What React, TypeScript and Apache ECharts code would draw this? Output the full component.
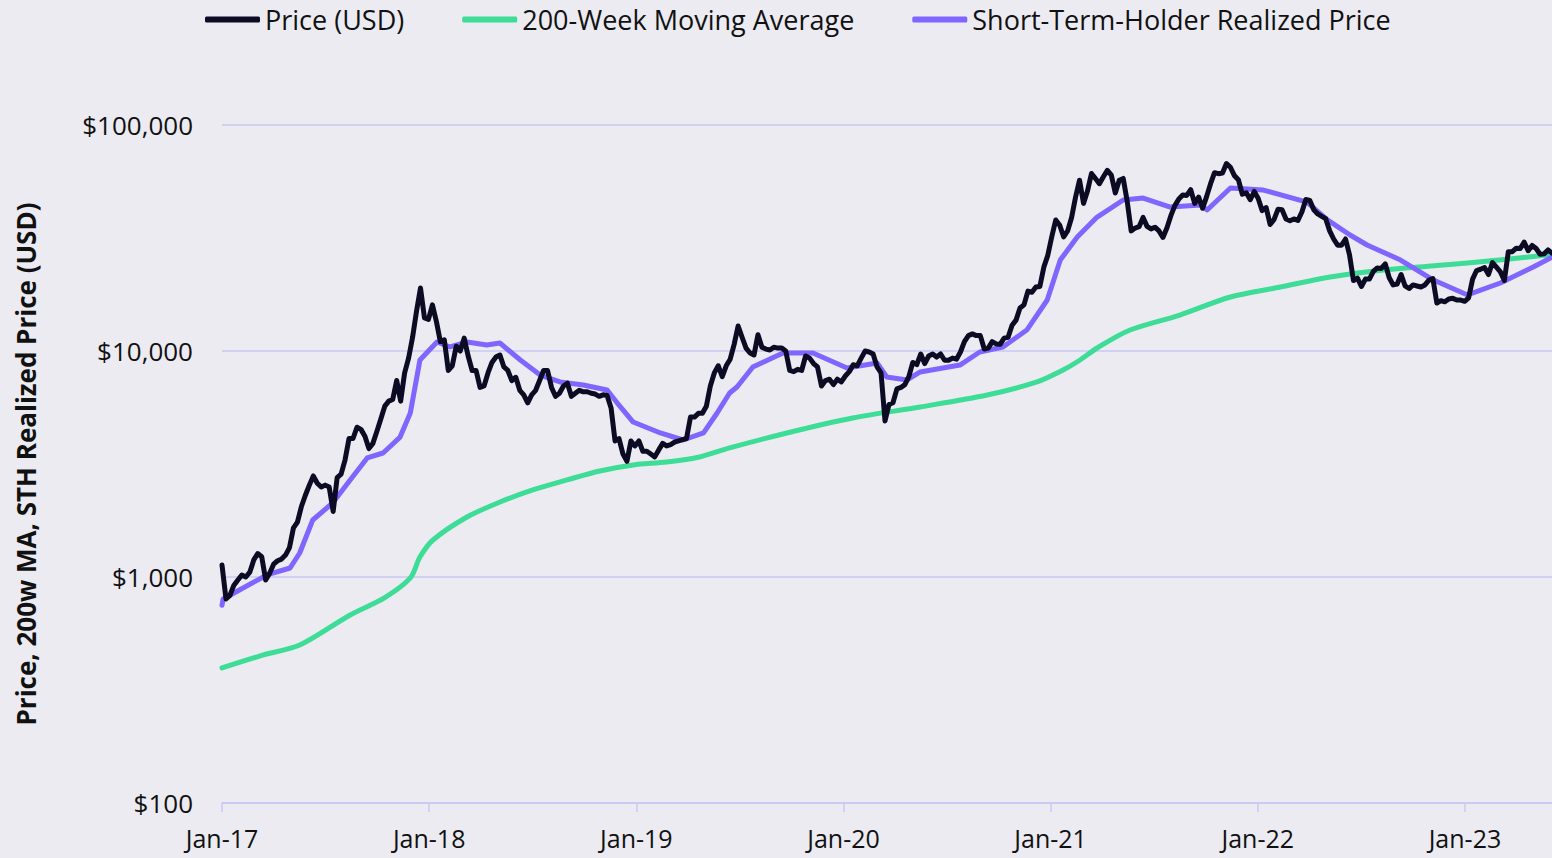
import React, { useEffect, useRef } from "react";
import * as echarts from "echarts";

// Weekly BTC price (USD), Sundays, starting 2017-01-01
const price2017 = [1130, 800, 830, 920, 970, 1020, 1000, 1050, 1190, 1270, 1230, 970, 1040, 1140, 1180, 1200, 1250, 1350, 1650, 1750, 2050, 2300, 2550, 2800, 2600, 2500, 2550, 2500, 1950, 2750, 2850, 3300, 4100, 4100, 4600, 4500, 4200, 3700, 3900, 4400, 5000, 5700, 6000, 6100, 7400, 6000, 8000, 9300, 11500, 15000, 19000, 14000, 13800];
const price2018 = [16000, 13500, 11000, 11200, 8200, 8600, 10500, 10000, 11400, 9500, 8200, 8200, 6900, 7000, 8000, 8900, 9400, 9600, 8500, 8200, 7400, 7650, 6700, 6400, 5900, 6400, 6700, 7400, 8200, 8200, 6900, 6300, 6500, 7000, 7200, 6300, 6500, 6700, 6600, 6600, 6500, 6450, 6300, 6400, 6350, 5600, 4000, 4100, 3500, 3250, 4000, 3800];
const price2019 = [4000, 3600, 3600, 3500, 3400, 3650, 3900, 3800, 3850, 3950, 4000, 4050, 4100, 5100, 5100, 5300, 5300, 5700, 7000, 8000, 8600, 7700, 8600, 9200, 10700, 12900, 11500, 10300, 9800, 9600, 11800, 10400, 10200, 10100, 10400, 10300, 10300, 10000, 8200, 8100, 8300, 8200, 9500, 9300, 8800, 8500, 7000, 7400, 7500, 7100, 7500, 7300];
const price2020 = [7750, 8100, 8700, 8600, 9300, 10000, 9900, 9700, 8500, 8000, 4900, 5800, 5900, 6800, 6900, 7100, 7700, 8900, 8700, 9700, 8800, 9500, 9700, 9400, 9700, 9100, 9100, 9300, 9200, 9900, 11000, 11700, 11900, 11700, 11700, 10200, 10300, 11000, 10750, 10700, 11400, 11500, 13000, 13700, 15500, 16000, 18400, 18200, 19200, 19300, 23500, 26500];
const price2021 = [32000, 38000, 36000, 32000, 34000, 39000, 48000, 57000, 45000, 51000, 61000, 58000, 55000, 59000, 63000, 60000, 50000, 57000, 58000, 46000, 34000, 35000, 35500, 39000, 35600, 34700, 35300, 34000, 31800, 35000, 39700, 44000, 47000, 49000, 48800, 51700, 45000, 48000, 42800, 48200, 55000, 61500, 60900, 61300, 67500, 65000, 59700, 57300, 49400, 50100, 46700, 50800];
const price2022 = [47300, 41800, 43100, 36300, 38200, 42400, 42200, 38400, 37700, 38400, 37800, 41200, 46800, 46400, 42200, 40400, 39400, 38500, 34000, 31300, 29400, 29400, 31300, 26600, 20500, 21000, 19300, 20800, 20800, 22500, 23300, 23200, 24300, 21100, 19600, 19800, 21800, 19400, 18900, 19600, 19400, 19200, 19600, 20600, 20900, 16300, 16700, 16500, 17000, 17100, 16800, 16800];
const price2023 = [16600, 17200, 20800, 22700, 23000, 23400, 21800, 24600, 23500, 22400, 20500, 27500, 27500, 28500, 28400, 30300, 27800, 29300, 28400, 26800, 26900, 28000, 27100];

// 200-week moving average
const maDates = ["2017-01-01", "2017-03-15", "2017-05-18", "2017-08-15", "2017-10-15", "2017-11-29", "2017-12-16", "2018-01-08", "2018-03-09", "2018-05-06", "2018-07-03", "2018-09-01", "2018-10-29", "2018-12-27", "2019-02-24", "2019-04-23", "2019-06-15", "2019-09-24", "2020-01-18", "2020-05-16", "2020-09-11", "2020-12-08", "2021-01-23", "2021-02-22", "2021-03-24", "2021-05-21", "2021-08-17", "2021-11-14", "2022-02-10", "2022-05-09", "2022-08-11", "2023-01-06", "2023-06-04"];
const maValues = [396, 452, 500, 679, 810, 990, 1225, 1458, 1843, 2146, 2428, 2688, 2946, 3133, 3227, 3397, 3724, 4339, 5054, 5653, 6383, 7293, 8242, 9125, 10310, 12380, 14430, 17340, 19190, 21240, 22810, 24490, 26700];

// Short-term-holder realized price
const sthDates = ["2017-01-01", "2017-01-03", "2017-03-21", "2017-05-01", "2017-05-18", "2017-06-10", "2017-07-15", "2017-08-15", "2017-09-14", "2017-10-12", "2017-11-11", "2017-11-29", "2017-12-16", "2018-01-15", "2018-02-07", "2018-03-09", "2018-04-13", "2018-05-06", "2018-06-11", "2018-07-16", "2018-08-20", "2018-09-30", "2018-11-11", "2018-11-29", "2018-12-27", "2019-02-13", "2019-03-25", "2019-04-30", "2019-05-24", "2019-06-15", "2019-06-28", "2019-07-26", "2019-09-17", "2019-11-09", "2020-01-08", "2020-03-01", "2020-03-18", "2020-04-23", "2020-05-16", "2020-07-25", "2020-08-29", "2020-10-09", "2020-11-20", "2020-12-26", "2021-01-18", "2021-02-17", "2021-03-24", "2021-05-09", "2021-06-13", "2021-07-31", "2021-09-22", "2021-10-04", "2021-11-14", "2022-01-11", "2022-03-29", "2022-05-04", "2022-06-13", "2022-07-13", "2022-09-10", "2022-11-07", "2023-01-06", "2023-03-05", "2023-05-02", "2023-06-04"];
const sthValues = [750, 799, 1021, 1096, 1277, 1787, 2125, 2687, 3362, 3537, 4161, 5317, 9125, 10960, 10420, 10960, 10640, 10850, 9125, 7826, 7293, 7074, 6719, 5885, 4850, 4339, 4038, 4339, 5317, 6518, 6930, 8492, 9795, 9795, 8405, 8848, 7673, 7448, 8075, 8667, 9898, 10420, 12380, 16810, 25270, 31930, 39150, 46560, 47520, 43350, 44250, 42060, 52630, 51540, 45600, 38010, 32600, 29450, 25270, 20610, 17700, 19990, 23540, 26000];

const seriesNames = ["Price (USD)", "200-Week Moving Average", "Short-Term-Holder Realized Price"];
const yAxisTitle = "Price, 200w MA, STH Realized Price (USD)";
const startYear = 2017;
const endDate = "2023-06-04";

const DAY = 86400000;
const T0 = Date.UTC(2017, 0, 1);
// convert a date to fractional years (365.25-day years) since Jan 1 2017
function dateToYear(s: string) {
  const [y, m, d] = s.split("-").map(Number);
  return startYear + (Date.UTC(y, m - 1, d) - T0) / DAY / 365.25;
}

export default function App() {
  const ref = useRef<HTMLDivElement>(null);
  useEffect(() => {
    if (!ref.current) return;
    const chart = echarts.init(ref.current, null, { renderer: "svg" });
    const allPrices = [...price2017, ...price2018, ...price2019, ...price2020, ...price2021, ...price2022, ...price2023];
    const priceData = allPrices.map((v, i) => [startYear + (7 * i) / 365.25, v]);
    const maData = maDates.map((d, i) => [dateToYear(d), maValues[i]]);
    const sthData = sthDates.map((d, i) => [dateToYear(d), sthValues[i]]);
    const grid = "#C9C9F1";
    const txt = "#111111";
    const font = "Open Sans";
    chart.setOption({
      animation: false,
      backgroundColor: "#EBEBF1",
      textStyle: { fontFamily: font },
      legend: {
        data: seriesNames,
        left: 200,
        top: 1,
        icon: "roundRect",
        itemWidth: 55,
        itemHeight: 6,
        itemGap: 58,
        textStyle: { fontSize: 27, color: txt, fontFamily: font },
      },
      grid: { left: 222, right: 0, top: 125, bottom: 55 },
      xAxis: {
        type: "value",
        min: startYear,
        max: dateToYear(endDate),
        interval: 1,
        axisLine: { show: true, lineStyle: { color: grid, width: 1.5 } },
        axisTick: { show: true, length: 9, lineStyle: { color: grid, width: 1.5 } },
        axisLabel: {
          margin: 22,
          fontSize: 25,
          lineHeight: 25,
          color: txt,
          fontFamily: font,
          showMaxLabel: false,
          formatter: (v: number) => "Jan-" + String(Math.round(v)).slice(2),
        },
        splitLine: { show: false },
      },
      yAxis: {
        type: "log",
        logBase: 10,
        min: 100,
        max: 100000,
        name: yAxisTitle,
        nameLocation: "middle",
        nameGap: 183,
        nameTextStyle: { fontSize: 26, fontWeight: "bold", color: txt, fontFamily: font },
        axisLine: { show: false },
        axisTick: { show: false },
        axisLabel: {
          margin: 29,
          fontSize: 26,
          color: txt,
          fontFamily: font,
          formatter: (v: number) => "$" + Math.round(v).toLocaleString("en-US"),
        },
        splitLine: { show: true, lineStyle: { color: grid, width: 1.5 } },
      },
      series: [
        {
          name: seriesNames[1],
          type: "line",
          data: maData,
          showSymbol: false,
          symbol: "none",
          smooth: 0.3,
          color: "#3DDC97",
          lineStyle: { width: 5, color: "#3DDC97", cap: "round", join: "round" },
          z: 2,
        },
        {
          name: seriesNames[2],
          type: "line",
          data: sthData,
          showSymbol: false,
          symbol: "none",
          color: "#8066FF",
          lineStyle: { width: 5, color: "#8066FF", cap: "round", join: "round" },
          z: 3,
        },
        {
          name: seriesNames[0],
          type: "line",
          data: priceData,
          showSymbol: false,
          symbol: "none",
          color: "#0C0B24",
          lineStyle: { width: 5, color: "#0C0B24", cap: "round", join: "round" },
          z: 4,
        },
      ],
    });
    return () => chart.dispose();
  }, []);
  return (
    <div
      ref={ref}
      style={{ position: "fixed", left: 0, top: 0, width: 1552, height: 858, background: "#EBEBF1" }}
    />
  );
}
